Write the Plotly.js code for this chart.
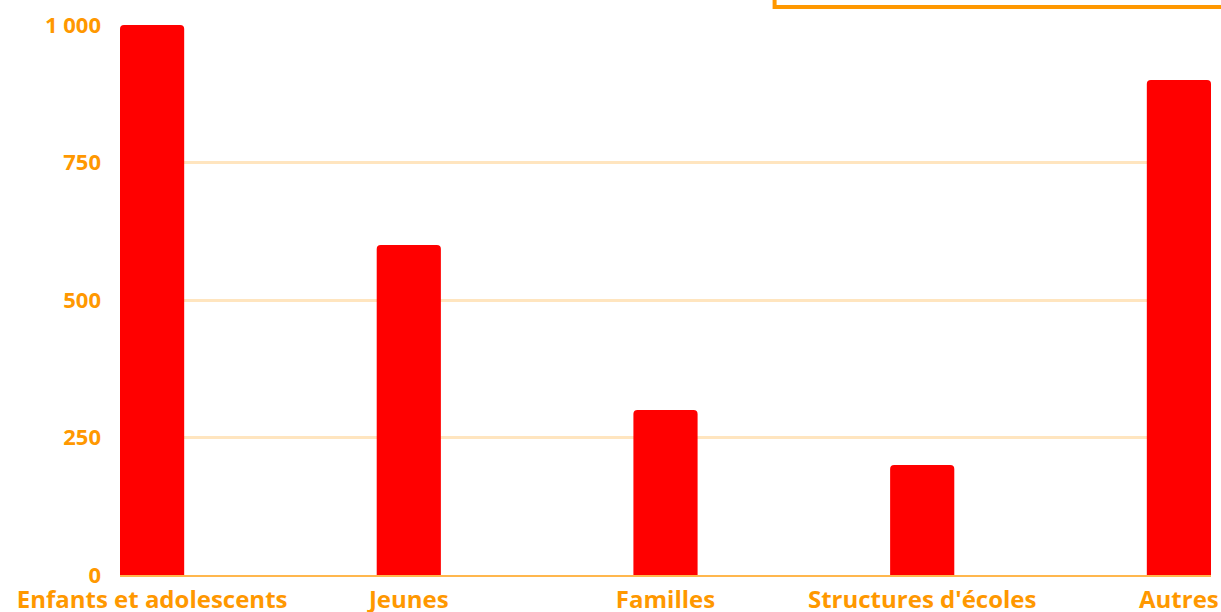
<!DOCTYPE html>
<html>
<head>
<meta charset="utf-8">
<script src="https://cdn.plot.ly/plotly-3.0.1.min.js"></script>
<style>html,body{margin:0;padding:0;background:#fff;}#chart{width:1221px;height:612px;}</style>
</head>
<body>
<div id="chart"></div>
<script>
const categories = ["Enfants et adolescents", "Jeunes", "Familles", "Structures d'écoles", "Autres"];
const values = [1000, 600, 300, 200, 900];
const yTicks = [0, 250, 500, 750, 1000];

const orange = "#FF9800";
const trace = {
  type: "bar",
  x: categories,
  y: values,
  marker: {color: "#FF0000", cornerradius: 4},
  hoverinfo: "x+y"
};
const layout = {
  width: 1221, height: 612,
  margin: {l: 120, r: 10, t: 25, b: 37},
  paper_bgcolor: "#fff", plot_bgcolor: "#fff",
  bargap: 0.75,
  separators: ", ",
  showlegend: false,
  font: {family: "'Open Sans', Lato, sans-serif", color: orange},
  xaxis: {
    range: [-0.125, 4.125],
    showgrid: false,
    showline: true, linecolor: "#FFB74D", linewidth: 2,
    ticks: "", ticklabelstandoff: 2,
    tickfont: {size: 24, weight: "bold", color: orange},
    fixedrange: true
  },
  yaxis: {
    range: [0, 1000],
    tickvals: yTicks,
    tickformat: ",d",
    showgrid: true, gridcolor: "#FFE5BF", gridwidth: 3,
    zeroline: false,
    ticks: "", ticklabelstandoff: 18,
    tickfont: {size: 22, weight: "bold", color: orange},
    fixedrange: true
  },
  shapes: [{
    type: "rect", xref: "paper", yref: "paper",
    x0: 0.6, x1: 1.03, y0: 1.0327, y1: 1.2,
    line: {color: orange, width: 4}, fillcolor: "rgba(0,0,0,0)"
  }]
};
Plotly.newPlot("chart", [trace], layout, {displayModeBar: false, staticPlot: true});
</script>
</body>
</html>
